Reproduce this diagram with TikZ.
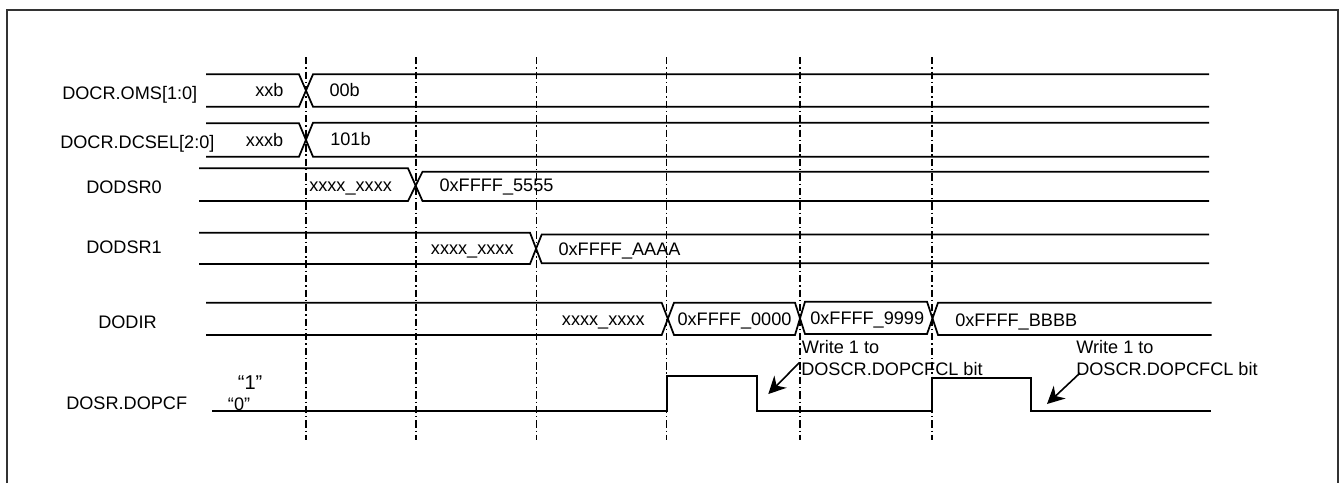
\documentclass[tikz,border=0pt]{standalone}
\usepackage{fontspec}
\setmainfont{Liberation Sans}
\usetikzlibrary{arrows.meta}
\tikzset{
  frame/.style = {line width=1.5pt, black!80},
  wire/.style  = {line width=1.3pt, line join=miter},
  level/.style = {line width=1.7pt, line join=miter},
  tick/.style  = {line width=1pt, dash pattern=on 5.5pt off 2.2pt on 1pt off 2.2pt},
  lbl/.style   = {anchor=base west, inner sep=0pt, font=\fontsize{13.6pt}{16pt}\selectfont},
  note/.style  = {-{Stealth[length=13pt,width=13pt]}, line width=1.2pt},
}
\begin{document}
\begin{tikzpicture}[x=0.75pt,y=-0.75pt]
  \useasboundingbox (0,0) rectangle (1341,483);
  \draw[frame] (6.5,483) -- (6.5,9.5) -- (1338,9.5) -- (1338,483);
  % signal names
  \node[lbl] (oms)   at (62,99.3)  {DOCR.OMS[1:0]};
  \node[lbl] (dcsel) at (60,148.3) {DOCR.DCSEL[2:0]};
  \node[lbl] (sr0)   at (86,193)   {DODSR0};
  \node[lbl] (sr1)   at (86,253)   {DODSR1};
  \node[lbl] (dir)   at (98,328.3) {DODIR};
  \node[lbl] (pcf)   at (66,409)   {DOSR.DOPCF};
  % bus values
  \node[lbl] (omsa)   at (255,96)    {xxb};
  \node[lbl] (omsb)   at (329.3,96)  {00b};
  \node[lbl] (dcsa)   at (245.7,146) {xxxb};
  \node[lbl] (dcsb)   at (330,145)   {101b};
  \node[lbl] (sr0a)   at (309,191.7) {xxxx\_xxxx};
  \node[lbl] (sr0b)   at (439.3,191.7) {0xFFFF\_5555};
  \node[lbl] (sr1a)   at (430.7,254) {xxxx\_xxxx};
  \node[lbl] (sr1b)   at (558.3,255) {0xFFFF\_AAAA};
  \node[lbl] (dira)   at (561.7,325) {xxxx\_xxxx};
  \node[lbl] (dirb)   at (677.3,325) {0xFFFF\_0000};
  \node[lbl] (dirc)   at (810,324)   {0xFFFF\_9999};
  \node[lbl] (dird)   at (955,326.7) {0xFFFF\_BBBB};
  \node[lbl,font=\fontsize{15pt}{16pt}\selectfont] (hi) at (237.7,389) {“1”};
  \node[lbl] (lo)     at (227.7,410) {“0”};
  \node[lbl] (wra)    at (801.7,353.3) {Write 1 to};
  \node[lbl] (wrb)    at (801,375)     {DOSCR.DOPCFCL bit};
  \node[lbl] (wrc)    at (1076,353.3)  {Write 1 to};
  \node[lbl] (wrd)    at (1076,375)    {DOSCR.DOPCFCL bit};
  % buses
  \draw[wire] (206,74.3) -- (299,74.3) -- (313,106.7) -- (1209,106.7);
  \draw[wire] (206,106.7) -- (299,106.7) -- (313,74.3) -- (1209,74.3);
  \draw[wire] (206,123.3) -- (299,123.3) -- (313,156.7) -- (1209,156.7);
  \draw[wire] (206,156.7) -- (299,156.7) -- (313,122.7) -- (1209,122.7);
  \draw[wire] (199,168.3) -- (408,168.3) -- (422.5,201) -- (1209,201);
  \draw[wire] (199,201) -- (408,201) -- (422.5,171.7) -- (1209,171.7);
  \draw[wire] (199,232.7) -- (530,232.7) -- (541.7,263.3) -- (1209,263.3);
  \draw[wire] (199,264) -- (530,264) -- (541.7,234.5) -- (1209,234.5);
  \draw[wire] (206,302.7) -- (661.7,302.7) -- (674,335) -- (795,335) -- (805,301.7)
    -- (927,301.7) -- (938,335) -- (1211.5,335);
  \draw[wire] (206,335) -- (661.7,335) -- (674,302.7) -- (795,302.7) -- (805,334)
    -- (927,334) -- (938,302.7) -- (1211.5,302.7);
  % flag
  \draw[level] (212,410.7) -- (666.7,410.7) -- (666.7,376) -- (756.7,376) -- (756.7,410.7)
    -- (932.3,410.7) -- (932.3,378.3) -- (1031,378.3) -- (1031,410.7) -- (1211,410.7);
  % time marks
  \foreach \x in {306,416,536.5,666.7,800,932}
    \draw[tick] (\x,57) -- (\x,440);
  % notes
  \coordinate (wra-s) at (799.3,362.7);
  \coordinate (wra-e) at (768.3,394);
  \coordinate (wrc-s) at (1080,373);
  \coordinate (wrc-e) at (1047,404);
  \draw[note] (wra-s) -- (wra-e);
  \draw[note] (wrc-s) -- (wrc-e);
\end{tikzpicture}
\end{document}
